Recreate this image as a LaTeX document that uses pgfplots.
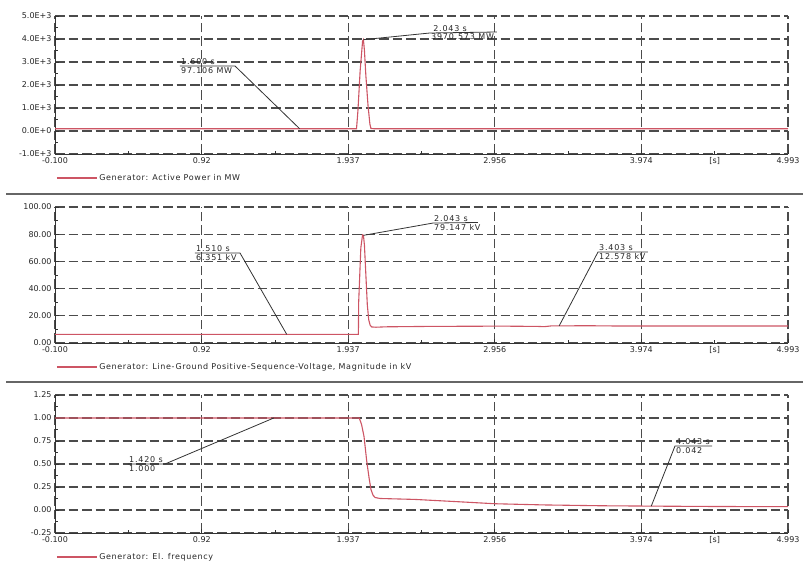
\documentclass[border=0pt]{standalone}
\usepackage{pgfplots}
\pgfplotsset{compat=1.18}
\usepackage{fontspec}
\setmainfont{DejaVu Sans}
\newfontfamily\annfont[LetterSpace=10]{DejaVu Sans}
\newfontfamily\legfont[LetterSpace=8]{DejaVu Sans}
\definecolor{pfred}{RGB}{205,85,100}
\definecolor{gridc}{RGB}{75,75,75}

\tikzset{
  ann/.style={draw=black!80, line width=0.8pt},
  anntext/.style={font=\annfont\fontsize{8}{9}\selectfont, text=black!85, inner sep=1pt},
}
\pgfplotsset{
  pfpanel/.style={
    anchor=south west, width=733pt, scale only axis, clip=false,
    xmin=-0.1, xmax=4.993,
    xtick={-0.1,0.92,1.937,2.956,3.974,4.993},
    xticklabels={-0.100,0.92,1.937,2.956,3.974,4.993},
    minor xtick={0.41,1.4285,2.4465,3.465,4.4835},
    extra x ticks={4.4835}, extra x tick labels={[s]},
    extra x tick style={grid=none, major tick length=0pt},
    minor y tick num=1,
    axis lines=left, axis line style={-, line width=0.9pt, color=black!80},
    grid=major,
    major grid style={dash pattern=on 9.5pt off 4pt, line width=1.3pt, gridc},
    tick align=inside, major tick length=4pt, minor tick length=3pt,
    tick style={black!80, line width=0.7pt},
    tick label style={font=\fontsize{8}{9}\selectfont, text=black!85},
    legend style={at={(0,0)}, anchor=west, yshift=-24pt, xshift=-2pt, draw=none, fill=none,
      font=\legfont\fontsize{8}{9}\selectfont, text=black!85},
    legend image code/.code={\draw[#1] (0pt,0pt) -- (40pt,0pt);},
  },
}

\begin{document}
\begin{tikzpicture}
\useasboundingbox (0pt,0pt) rectangle (803pt,564pt);

% ---------- Panel 1: Active Power ----------
\begin{axis}[pfpanel, at={(55pt,410pt)}, height=138pt,
  ymin=-1000, ymax=5000,
  ytick={-1000,0,1000,2000,3000,4000,5000},
  yticklabels={-1.0E+3,0.0E+0,1.0E+3,2.0E+3,3.0E+3,4.0E+3,5.0E+3}]
\addplot[pfred, line width=1.1pt] coordinates {
(-0.1,97.1) (1.995,97.1) (2.005,900) (2.02,2600) (2.037,3900) (2.043,3970.573)
(2.05,3500) (2.06,2400) (2.075,1100) (2.088,300) (2.095,110) (2.12,97) (4.993,97)};
\addlegendentry{Generator: Active Power in MW}
\draw[ann] (axis cs:1.6,97.106) -- (axis cs:1.1507,2826) -- (axis cs:0.7685,2826);
\node[anntext, anchor=south west] at (axis cs:0.7685,2826) {1.600 s};
\node[anntext, anchor=north west] at (axis cs:0.7685,2826) {97.106 MW};
\draw[ann] (axis cs:2.043,3970.573) -- (axis cs:2.5056,4261) -- (axis cs:2.971,4304);
\node[anntext, anchor=south west] at (axis cs:2.52,4261) {2.043 s};
\node[anntext, anchor=north west] at (axis cs:2.5056,4300) {3970.573 MW};
\end{axis}

% ---------- Panel 2: Voltage ----------
\begin{axis}[pfpanel, at={(55pt,221pt)}, height=136pt,
  ymin=0, ymax=100,
  ytick={0,20,40,60,80,100},
  yticklabels={0.00,20.00,40.00,60.00,80.00,100.00}]
\addplot[pfred, line width=1.1pt] coordinates {
(-0.1,6.351) (2.008,6.351) (2.01,30) (2.025,70) (2.037,79.5) (2.043,79.147)
(2.05,72) (2.06,50) (2.07,28) (2.08,17) (2.09,13) (2.1,11.8) (2.13,11.6)
(2.2,11.9) (2.5,12.2) (3.0,12.4) (3.25,12.2) (3.3,12.0) (3.35,12.6)
(3.403,12.578) (3.6,12.7) (3.8,12.5) (4.993,12.5)};
\addlegendentry{Generator: Line-Ground Positive-Sequence-Voltage, Magnitude in kV}
\draw[ann] (axis cs:1.51,6.351) -- (axis cs:1.1854,66.2) -- (axis cs:0.8727,66.2);
\node[anntext, anchor=south west] at (axis cs:0.8727,66.2) {1.510 s};
\node[anntext, anchor=north west] at (axis cs:0.8727,66.2) {6.351 kV};
\draw[ann] (axis cs:2.043,79.147) -- (axis cs:2.5264,88.2) -- (axis cs:2.839,88.6);
\node[anntext, anchor=south west] at (axis cs:2.5264,88.2) {2.043 s};
\node[anntext, anchor=north west] at (axis cs:2.5264,88.2) {79.147 kV};
\draw[ann] (axis cs:3.403,12.578) -- (axis cs:3.673,66.9) -- (axis cs:4.020,66.9);
\node[anntext, anchor=south west] at (axis cs:3.673,66.9) {3.403 s};
\node[anntext, anchor=north west] at (axis cs:3.673,66.9) {12.578 kV};
\end{axis}

% ---------- Panel 3: Frequency ----------
\begin{axis}[pfpanel, at={(55pt,31pt)}, height=138pt,
  ymin=-0.25, ymax=1.25,
  ytick={-0.25,0,0.25,0.5,0.75,1,1.25},
  yticklabels={-0.25,0.00,0.25,0.50,0.75,1.00,1.25}]
\addplot[pfred, line width=1.1pt] coordinates {
(-0.1,1.0) (2.014,1.0) (2.03,0.93) (2.047,0.8) (2.066,0.53) (2.083,0.34)
(2.096,0.22) (2.11,0.16) (2.125,0.135) (2.16,0.125) (2.4,0.115) (2.7,0.09)
(2.956,0.068) (3.3,0.055) (3.7,0.046) (3.974,0.043) (4.043,0.042) (4.5,0.038) (4.993,0.036)};
\addlegendentry{Generator: El. frequency}
\draw[ann] (axis cs:1.42,1.0) -- (axis cs:0.6643,0.5) -- (axis cs:0.4072,0.5);
\node[anntext, anchor=south west] at (axis cs:0.4072,0.5) {1.420 s};
\node[anntext, anchor=north west] at (axis cs:0.4072,0.5) {1.000};
\draw[ann] (axis cs:4.043,0.042) -- (axis cs:4.208,0.696) -- (axis cs:4.465,0.696);
\node[anntext, anchor=south west] at (axis cs:4.208,0.696) {4.043 s};
\node[anntext, anchor=north west] at (axis cs:4.208,0.696) {0.042};
\end{axis}

% panel separators
\draw[black!60, line width=1.5pt] (6pt,370pt) -- (803pt,370pt);
\draw[black!60, line width=1.5pt] (6pt,182pt) -- (803pt,182pt);
\end{tikzpicture}
\end{document}
